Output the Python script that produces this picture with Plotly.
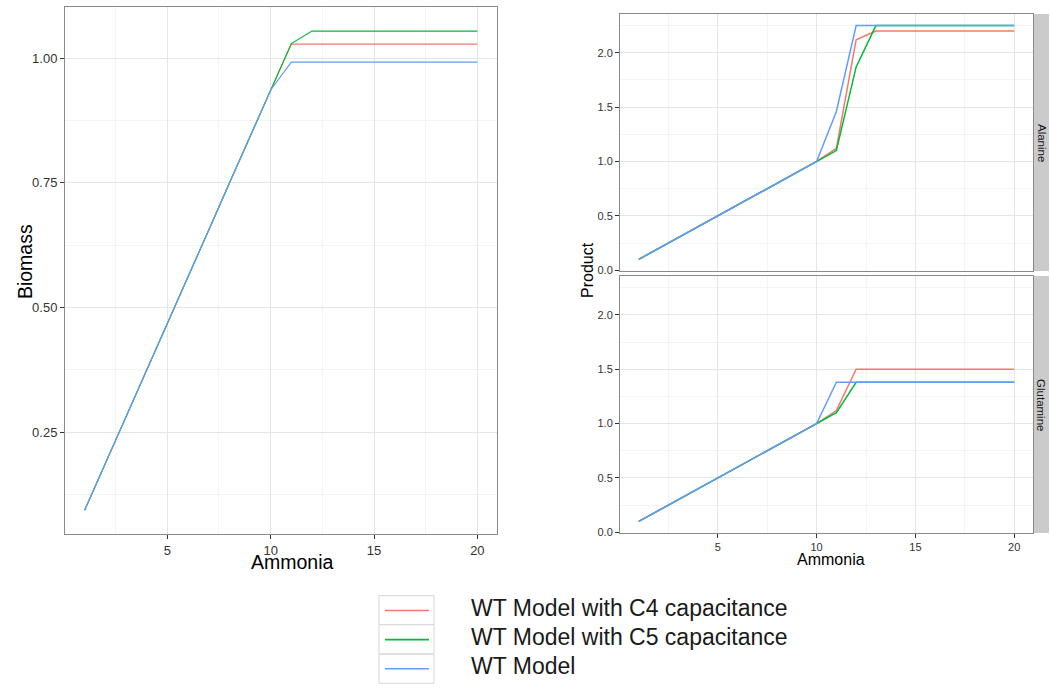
import plotly.graph_objects as go

W, H = 1050, 688

ammonia = [1, 2, 3, 4, 5, 6, 7, 8, 9, 10, 11, 12, 13, 14, 15, 16, 17, 18, 19, 20]
series_names = ["WT Model with C4 capacitance", "WT Model with C5 capacitance", "WT Model"]
colors = ["#F8766D", "#00BA38", "#619CFF"]

biomass_c4 = [0.094, 0.187, 0.281, 0.374, 0.468, 0.562, 0.655, 0.749, 0.842, 0.936,
              1.028, 1.028, 1.028, 1.028, 1.028, 1.028, 1.028, 1.028, 1.028, 1.028]
biomass_c5 = [0.094, 0.187, 0.281, 0.374, 0.468, 0.562, 0.655, 0.749, 0.842, 0.936,
              1.029, 1.054, 1.054, 1.054, 1.054, 1.054, 1.054, 1.054, 1.054, 1.054]
biomass_wt = [0.094, 0.187, 0.281, 0.374, 0.468, 0.562, 0.655, 0.749, 0.842, 0.936,
              0.992, 0.992, 0.992, 0.992, 0.992, 0.992, 0.992, 0.992, 0.992, 0.992]

alanine_c4 = [0.1, 0.2, 0.3, 0.4, 0.5, 0.6, 0.7, 0.8, 0.9, 1.0,
              1.12, 2.12, 2.20, 2.20, 2.20, 2.20, 2.20, 2.20, 2.20, 2.20]
alanine_c5 = [0.1, 0.2, 0.3, 0.4, 0.5, 0.6, 0.7, 0.8, 0.9, 1.0,
              1.10, 1.87, 2.25, 2.25, 2.25, 2.25, 2.25, 2.25, 2.25, 2.25]
alanine_wt = [0.1, 0.2, 0.3, 0.4, 0.5, 0.6, 0.7, 0.8, 0.9, 1.0,
              1.46, 2.25, 2.25, 2.25, 2.25, 2.25, 2.25, 2.25, 2.25, 2.25]

glutamine_c4 = [0.1, 0.2, 0.3, 0.4, 0.5, 0.6, 0.7, 0.8, 0.9, 1.0,
                1.12, 1.50, 1.50, 1.50, 1.50, 1.50, 1.50, 1.50, 1.50, 1.50]
glutamine_c5 = [0.1, 0.2, 0.3, 0.4, 0.5, 0.6, 0.7, 0.8, 0.9, 1.0,
                1.10, 1.38, 1.38, 1.38, 1.38, 1.38, 1.38, 1.38, 1.38, 1.38]
glutamine_wt = [0.1, 0.2, 0.3, 0.4, 0.5, 0.6, 0.7, 0.8, 0.9, 1.0,
                1.38, 1.38, 1.38, 1.38, 1.38, 1.38, 1.38, 1.38, 1.38, 1.38]

facet_labels = ["Alanine", "Glutamine"]

FONT = "Liberation Sans, Arial, sans-serif"
BORDER = "#8a8a8a"
GRID = "#e5e5e5"
MINOR = "#f4f4f4"
TICKC = "#333333"

fig = go.Figure()

def px_x(p):
    return p / W

def px_y(p):
    return 1 - p / H

for vals, name, col in zip([biomass_c4, biomass_c5, biomass_wt], series_names, colors):
    fig.add_trace(go.Scatter(x=ammonia, y=vals, mode="lines", name=name,
                             line=dict(color=col, width=1.2), xaxis="x", yaxis="y",
                             showlegend=False))
for vals, name, col in zip([alanine_c4, alanine_c5, alanine_wt], series_names, colors):
    fig.add_trace(go.Scatter(x=ammonia, y=vals, mode="lines", name=name,
                             line=dict(color=col, width=1.5), xaxis="x2", yaxis="y2",
                             showlegend=False))
for vals, name, col in zip([glutamine_c4, glutamine_c5, glutamine_wt], series_names, colors):
    fig.add_trace(go.Scatter(x=ammonia, y=vals, mode="lines", name=name,
                             line=dict(color=col, width=1.5), xaxis="x3", yaxis="y3",
                             showlegend=False))

def axis_common(**kw):
    d = dict(showline=True, linecolor=BORDER, linewidth=1, mirror=True,
             showgrid=True, gridcolor=GRID, gridwidth=1, zeroline=False,
             ticks="outside", ticklen=4, tickcolor=TICKC, tickwidth=1,
             tickfont=dict(family=FONT, color=TICKC))
    d.update(kw)
    return d

left_dom_x = [px_x(65), px_x(497)]
left_dom_y = [px_y(538), px_y(6.7)]
right_dom_x = [px_x(620), px_x(1033)]
top_dom_y = [px_y(273), px_y(14)]
bot_dom_y = [px_y(537), px_y(278)]

xr = [0.05, 20.95]
fig.update_layout(
    width=W, height=H, margin=dict(l=0, r=0, t=0, b=0),
    paper_bgcolor="white", plot_bgcolor="white", showlegend=False,
    xaxis=axis_common(domain=left_dom_x, range=xr, tick0=0, dtick=5,
                      tickfont=dict(family=FONT, color=TICKC, size=13),
                      minor=dict(dtick=2.5, tick0=0, showgrid=True, gridcolor=MINOR, ticks=""),
                      anchor="y"),
    yaxis=axis_common(domain=left_dom_y, range=[0.046, 1.103], tick0=0, dtick=0.25,
                      tickformat=".2f", tickfont=dict(family=FONT, color=TICKC, size=13),
                      minor=dict(dtick=0.125, tick0=0, showgrid=True, gridcolor=MINOR, ticks=""),
                      anchor="x"),
    xaxis2=axis_common(domain=right_dom_x, range=xr, tick0=0, dtick=5, matches="x3",
                       showticklabels=False, ticks="",
                       minor=dict(dtick=2.5, tick0=0, showgrid=True, gridcolor=MINOR, ticks=""),
                       anchor="y2"),
    yaxis2=axis_common(domain=top_dom_y, range=[-0.0075, 2.3575], tick0=0, dtick=0.5,
                       tickformat=".1f", tickfont=dict(family=FONT, color=TICKC, size=11),
                       minor=dict(dtick=0.25, tick0=0, showgrid=True, gridcolor=MINOR, ticks=""),
                       anchor="x2"),
    xaxis3=axis_common(domain=right_dom_x, range=xr, tick0=0, dtick=5,
                       tickfont=dict(family=FONT, color=TICKC, size=11),
                       minor=dict(dtick=2.5, tick0=0, showgrid=True, gridcolor=MINOR, ticks=""),
                       anchor="y3"),
    yaxis3=axis_common(domain=bot_dom_y, range=[-0.0075, 2.3575], tick0=0, dtick=0.5,
                       tickformat=".1f", tickfont=dict(family=FONT, color=TICKC, size=11),
                       minor=dict(dtick=0.25, tick0=0, showgrid=True, gridcolor=MINOR, ticks=""),
                       anchor="x3"),
)

shapes = []
annotations = []

# facet strips
for lab, dom in zip(facet_labels, [top_dom_y, bot_dom_y]):
    shapes.append(dict(type="rect", xref="paper", yref="paper",
                       x0=px_x(1034), x1=px_x(1049), y0=dom[0], y1=dom[1],
                       fillcolor="#cbcbcb", line=dict(width=0), layer="below"))
    annotations.append(dict(text=lab, xref="paper", yref="paper",
                            x=px_x(1041.5), y=(dom[0] + dom[1]) / 2, showarrow=False,
                            textangle=90, font=dict(family=FONT, size=11.5, color="#1a1a1a"),
                            xanchor="center", yanchor="middle"))

# axis titles
annotations.append(dict(text="Biomass", xref="paper", yref="paper", x=px_x(25), y=px_y(264),
                        showarrow=False, textangle=-90,
                        font=dict(family=FONT, size=19.5, color="black"),
                        xanchor="center", yanchor="middle"))
annotations.append(dict(text="Ammonia", xref="paper", yref="paper", x=px_x(292), y=px_y(566),
                        showarrow=False, font=dict(family=FONT, size=19.5, color="black"),
                        xanchor="center", yanchor="middle"))
annotations.append(dict(text="Product", xref="paper", yref="paper", x=px_x(587), y=px_y(272),
                        showarrow=False, textangle=-90,
                        font=dict(family=FONT, size=16, color="black"),
                        xanchor="center", yanchor="middle"))
annotations.append(dict(text="Ammonia", xref="paper", yref="paper", x=px_x(831), y=px_y(564),
                        showarrow=False, font=dict(family=FONT, size=16, color="black"),
                        xanchor="center", yanchor="middle"))

# legend (drawn manually to match ggplot key boxes)
box_tops = [600, 629.3, 659]
box_h = 29.3
line_y = [615, 644.3, 673.7]
text_y = [612.3, 641.7, 671]
for i, (name, col) in enumerate(zip(series_names, colors)):
    shapes.append(dict(type="rect", xref="paper", yref="paper",
                       x0=px_x(379), x1=px_x(434), y0=px_y(box_tops[i] + box_h), y1=px_y(box_tops[i]),
                       fillcolor="white", line=dict(color="#d6d6d6", width=1)))
    shapes.append(dict(type="line", xref="paper", yref="paper",
                       x0=px_x(385), x1=px_x(429), y0=px_y(line_y[i]), y1=px_y(line_y[i]),
                       line=dict(color=col, width=1.6)))
    annotations.append(dict(text=name, xref="paper", yref="paper", x=px_x(469), y=px_y(text_y[i]),
                            showarrow=False, xanchor="left", yanchor="middle",
                            font=dict(family=FONT, size=23, color="#1a1a1a")))

fig.update_layout(shapes=shapes, annotations=annotations)
fig.write_html("out.html")
